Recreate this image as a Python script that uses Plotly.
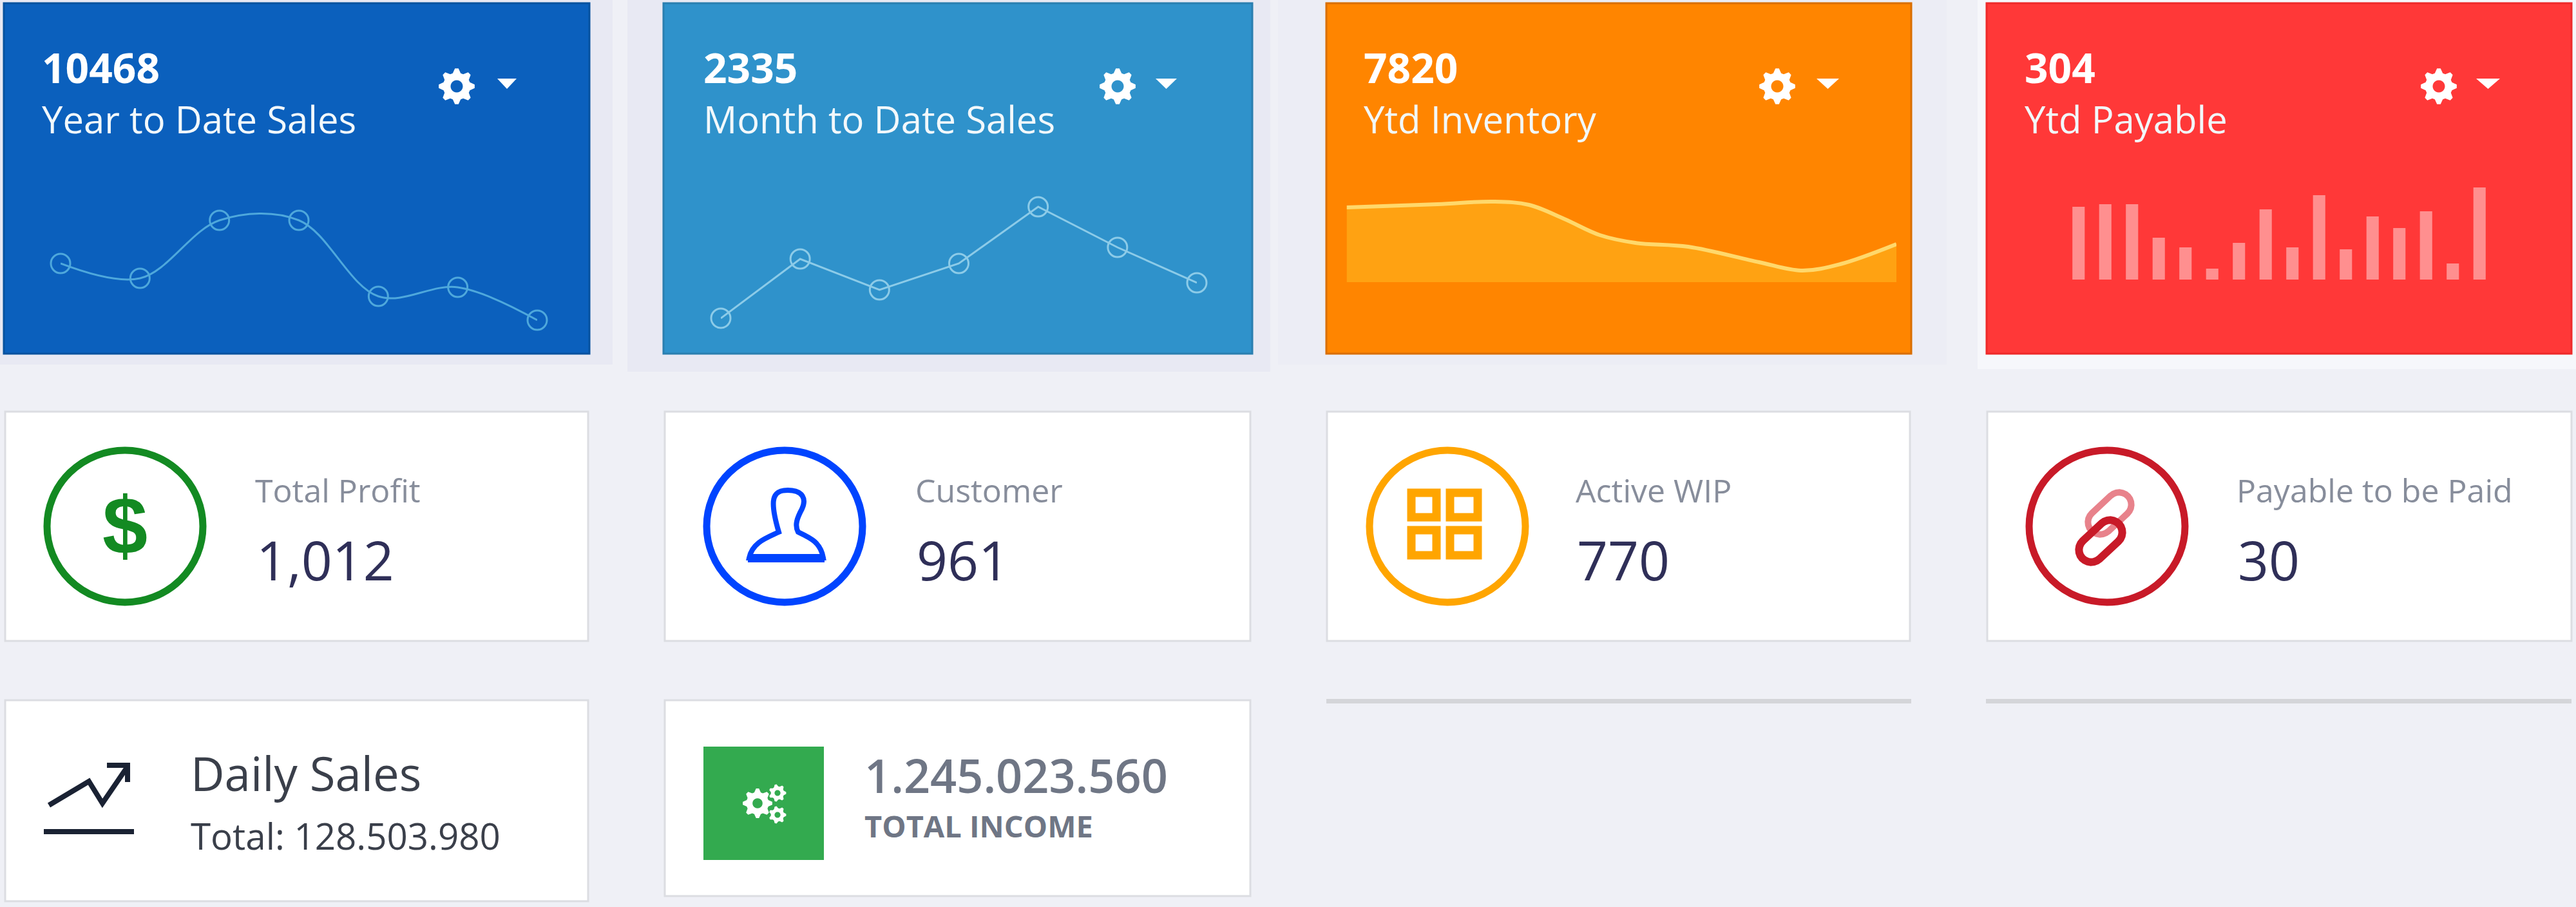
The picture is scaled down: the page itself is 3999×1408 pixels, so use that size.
import math
import plotly.graph_objects as go

W, H = 3999, 1408

# ---- data ----
kpi_values = ["10468", "2335", "7820", "304"]
kpi_labels = ["Year to Date Sales", "Month to Date Sales", "Ytd Inventory", "Ytd Payable"]
stat_labels = ["Total Profit", "Customer", "Active WIP", "Payable to be Paid"]
stat_values = ["1,012", "961", "770", "30"]
daily_title = "Daily Sales"
daily_total = "Total: 128.503.980"
income_value = "1.245.023.560"
income_label = "TOTAL INCOME"

year_sales = [111, 88, 178, 178, 60, 74, 23]
month_sales = [26, 118, 70, 111, 199, 136, 81]
inventory_x = [0, 141, 228, 283, 338, 393, 448, 530, 640, 706, 766, 853]
inventory = [116, 121, 125, 120, 98, 73, 61, 55, 31, 18, 28, 59]
payable = [113, 117, 117, 65, 50, 17, 57, 109, 50, 131, 47, 98, 80, 106, 25, 143]

FONT = "Open Sans"


def fx(x):
    return x / W


def fy(y):
    return 1 - y / H


shapes, annos = [], []


def rect(x0, y0, x1, y1, fill, line=None, lw=0, layer="below"):
    shapes.append(dict(type="rect", xref="paper", yref="paper", x0=fx(x0), x1=fx(x1), y0=fy(y0), y1=fy(y1),
                       fillcolor=fill, line=dict(color=line or fill, width=lw), layer=layer))


def path(d, fill="rgba(0,0,0,0)", line=None, lw=0):
    s = ""
    for seg in d:
        cmd, nums = seg[0], seg[1:]
        s += cmd
        pts = []
        for i in range(0, len(nums), 2):
            pts.append(f"{fx(nums[i]):.6f},{fy(nums[i + 1]):.6f}")
        s += " ".join(pts) + " "
    shapes.append(dict(type="path", xref="paper", yref="paper", path=s, fillcolor=fill,
                       line=dict(color=line or "rgba(0,0,0,0)", width=lw), layer="above"))


def text(x, base, s, size, color, weight=400, font=FONT):
    annos.append(dict(xref="paper", yref="paper", x=fx(x), y=fy(base + 0.293 * size + 2), text=s, showarrow=False,
                      xanchor="left", yanchor="bottom", align="left",
                      font=dict(family=font, size=size, color=color, weight=weight)))


def gear_segments(cx, cy, r, teeth=8):
    segs = []
    n = teeth * 4
    for i in range(n):
        a = 2 * math.pi * (i - 0.5) / n
        rr = r if i % 4 in (0, 1) else r * 0.76
        segs.append(("L" if i else "M", cx + rr * math.cos(a), cy + rr * math.sin(a)))
    segs.append(("Z",))
    hole = []
    for i in range(24):
        a = 2 * math.pi * i / 24
        hole.append(("L" if i else "M", cx + r * 0.34 * math.cos(a), cy + r * 0.34 * math.sin(a)))
    hole.append(("Z",))
    return segs + hole


def stadium_segments(cx, cy, half, rad, rot):
    segs = []
    pts = []
    for i in range(13):
        t = -math.pi / 2 + math.pi * i / 12
        pts.append((half + rad * math.cos(t), rad * math.sin(t)))
    for i in range(13):
        t = math.pi / 2 + math.pi * i / 12
        pts.append((-half + rad * math.cos(t), rad * math.sin(t)))
    for i, (px, py) in enumerate(pts):
        segs.append(("L" if i else "M", cx + px * math.cos(rot) - py * math.sin(rot),
                     cy + px * math.sin(rot) + py * math.cos(rot)))
    segs.append(("Z",))
    return segs


# ---- page background and pale halos ----
BG = "#eff0f6"
rect(0, 0, 951, 566, "#e8e9f3")
rect(974, 0, 1972, 577, "#e8e9f3")
rect(1984, 0, 3022, 566, "#ecedf5")
rect(3070, 0, 3999, 573, "#f6f7fb")

# ---- coloured KPI cards ----
top_cards = [
    (6, 915, "#0b60bd", "#07529f"),
    (1030, 1944, "#2f92cb", "#2a7fb0"),
    (2059, 2967, "#ff8500", "#d96f00"),
    (3084, 3992, "#ff3838", "#ee2a2a"),
]
gear_x = [709, 1735, 2759, 3786]
tri_x = [(772, 802), (1794, 1827), (2820, 2855), (3844, 3881)]
text_x = [63, 1090, 2115, 3141]
for i, (x0, x1, c, edge) in enumerate(top_cards):
    rect(x0, 5, x1, 549, c, edge, 3)
    text(text_x[i], 129, kpi_values[i], 64, "#ffffff", 700)
    text(text_x[i], 207, kpi_labels[i], 58, "#f2f8fb")
    path(gear_segments(gear_x[i], 134, 28), fill="#ffffff")
    a, b = tri_x[i]
    path([("M", a, 122), ("L", b, 122), ("L", (a + b) / 2, 138), ("Z",)], fill="#ffffff")

# ---- white stat cards ----
stat_cards = [(8, 913), (1032, 1941), (2060, 2965), (3085, 3992)]
circles = [(194, "#138a22"), (1218, "#0044ff"), (2247, "#ffa500"), (3271, "#c81a28")]
stat_x = [394, 1419, 2444, 3470]
for i, (x0, x1) in enumerate(stat_cards):
    rect(x0, 639, x1, 995, "#ffffff", "#dcdde2", 3)
    cx, col = circles[i]
    shapes.append(dict(type="circle", xref="paper", yref="paper", x0=fx(cx - 121), x1=fx(cx + 121),
                       y0=fy(817 - 118), y1=fy(817 + 118), line=dict(color=col, width=11), layer="above"))
    text(stat_x[i], 780, stat_labels[i], 50, "#878d9b")
    text(stat_x[i] + 2, 901, stat_values[i], 84, "#2f2f58")

# dollar glyph
annos.append(dict(xref="paper", yref="paper", x=fx(194), y=fy(816), text="$", showarrow=False,
                  xanchor="center", yanchor="middle",
                  font=dict(family="Liberation Sans", size=126, color="#138a22", weight=700)))

# user icon
path([("M", 1163, 866), ("C", 1168, 842, 1190, 835, 1209, 826, 1215, 815, 1208, 800, 1202, 790),
      ("C", 1194, 775, 1199, 761, 1223, 761), ("C", 1247, 761, 1252, 775, 1245, 790),
      ("C", 1238, 803, 1233, 815, 1239, 826), ("C", 1258, 835, 1274, 842, 1278, 866), ("Z",)],
     line="#0044ff", lw=8)
rect(1161, 860, 1280, 873, "#0044ff", layer="above")

# grid icon
for gx0, gx1 in [(2191, 2230), (2251, 2294)]:
    for gy0, gy1 in [(765, 803), (823, 862)]:
        rect(gx0, gy0, gx1, gy1, "rgba(0,0,0,0)", "#ffa500", 13, layer="above")

# link icon
path(stadium_segments(3275, 797, 20, 19, -0.75), line="#e8828b", lw=10)
path(stadium_segments(3261, 840, 20, 19, -0.75), line="#c81a28", lw=12)

# ---- bottom row ----
rect(8, 1087, 913, 1399, "#ffffff", "#dcdde2", 3)
rect(1032, 1087, 1941, 1391, "#ffffff", "#dcdde2", 3)
rect(2059, 1085, 2967, 1092, "#d4d5d9")
rect(3083, 1085, 3992, 1092, "#d4d5d9")

text(294, 1228, daily_title, 72.5, "#3a3f4a")
text(294, 1319, daily_total, 56.5, "#3a3f4a")
path([("M", 76, 1250), ("L", 138, 1213), ("L", 159, 1247), ("L", 198, 1190)], line="#1a2233", lw=8)
path([("M", 166, 1188), ("L", 198, 1188), ("L", 198, 1214)], line="#1a2233", lw=8)
rect(68, 1287, 208, 1295, "#1a2233", layer="above")

rect(1092, 1159, 1279, 1335, "#33aa4f", layer="above")
path(gear_segments(1176, 1247, 23, 8), fill="#ffffff")
path(gear_segments(1207, 1231, 13.5, 7), fill="#ffffff")
path(gear_segments(1207, 1265, 13.5, 7), fill="#ffffff")
text(1340, 1231, income_value, 72, "#6f7685", 600)
text(1340, 1300, income_label, 47, "#6f7685", 700)

# ---- sparklines, each on its own pair of hidden axes ----
fig = go.Figure()


def axes(n, x0, x1, y0, y1, xr, yr):
    s = "" if n == 1 else str(n)
    return {
        f"xaxis{s}": dict(domain=[fx(x0), fx(x1)], range=xr, visible=False, fixedrange=True, anchor=f"y{s}"),
        f"yaxis{s}": dict(domain=[fy(y1), fy(y0)], range=yr, visible=False, fixedrange=True, anchor=f"x{s}"),
    }


layout_axes = {}
layout_axes.update(axes(1, 94, 834, 300, 520, [0, 6], [0, 220]))
layout_axes.update(axes(2, 1119, 1858, 300, 520, [0, 6], [0, 220]))
layout_axes.update(axes(3, 2090.5, 2944, 300, 438, [0, 853], [0, 138]))
layout_axes.update(axes(4, 3206, 3870, 284, 434, [-0.5, 15.5], [0, 150]))

fig.add_trace(go.Scatter(x=list(range(len(year_sales))), y=year_sales, xaxis="x", yaxis="y", mode="lines+markers",
                         line=dict(color="#4ea8dc", width=3, shape="spline", smoothing=1.0),
                         marker=dict(symbol="circle-open", size=30, color="#4ea8dc", line=dict(width=3, color="#4ea8dc")),
                         cliponaxis=False, showlegend=False))
fig.add_trace(go.Scatter(x=list(range(len(month_sales))), y=month_sales, xaxis="x2", yaxis="y2", mode="lines+markers",
                         line=dict(color="#8ccbe8", width=3),
                         marker=dict(symbol="circle-open", size=30, color="#8ccbe8", line=dict(width=3, color="#8ccbe8")),
                         cliponaxis=False, showlegend=False))
fig.add_trace(go.Scatter(x=inventory_x, y=inventory, xaxis="x3", yaxis="y3", mode="lines", fill="tozeroy",
                         fillcolor="#ffa212", line=dict(color="#ffd86b", width=6, shape="spline", smoothing=1.0),
                         showlegend=False))
fig.add_trace(go.Bar(x=list(range(len(payable))), y=payable, xaxis="x4", yaxis="y4",
                     marker=dict(color="#ff8f8f", line=dict(width=0)), showlegend=False))

fig.update_layout(width=W, height=H, margin=dict(l=0, r=0, t=0, b=0), autosize=False,
                  paper_bgcolor=BG, plot_bgcolor="rgba(0,0,0,0)", bargap=0.54,
                  shapes=shapes, annotations=annos, showlegend=False, **layout_axes)

fig.write_html("out.html", config=dict(displayModeBar=False),
               post_script="document.body.style.margin='0';document.body.style.overflow='hidden';")
